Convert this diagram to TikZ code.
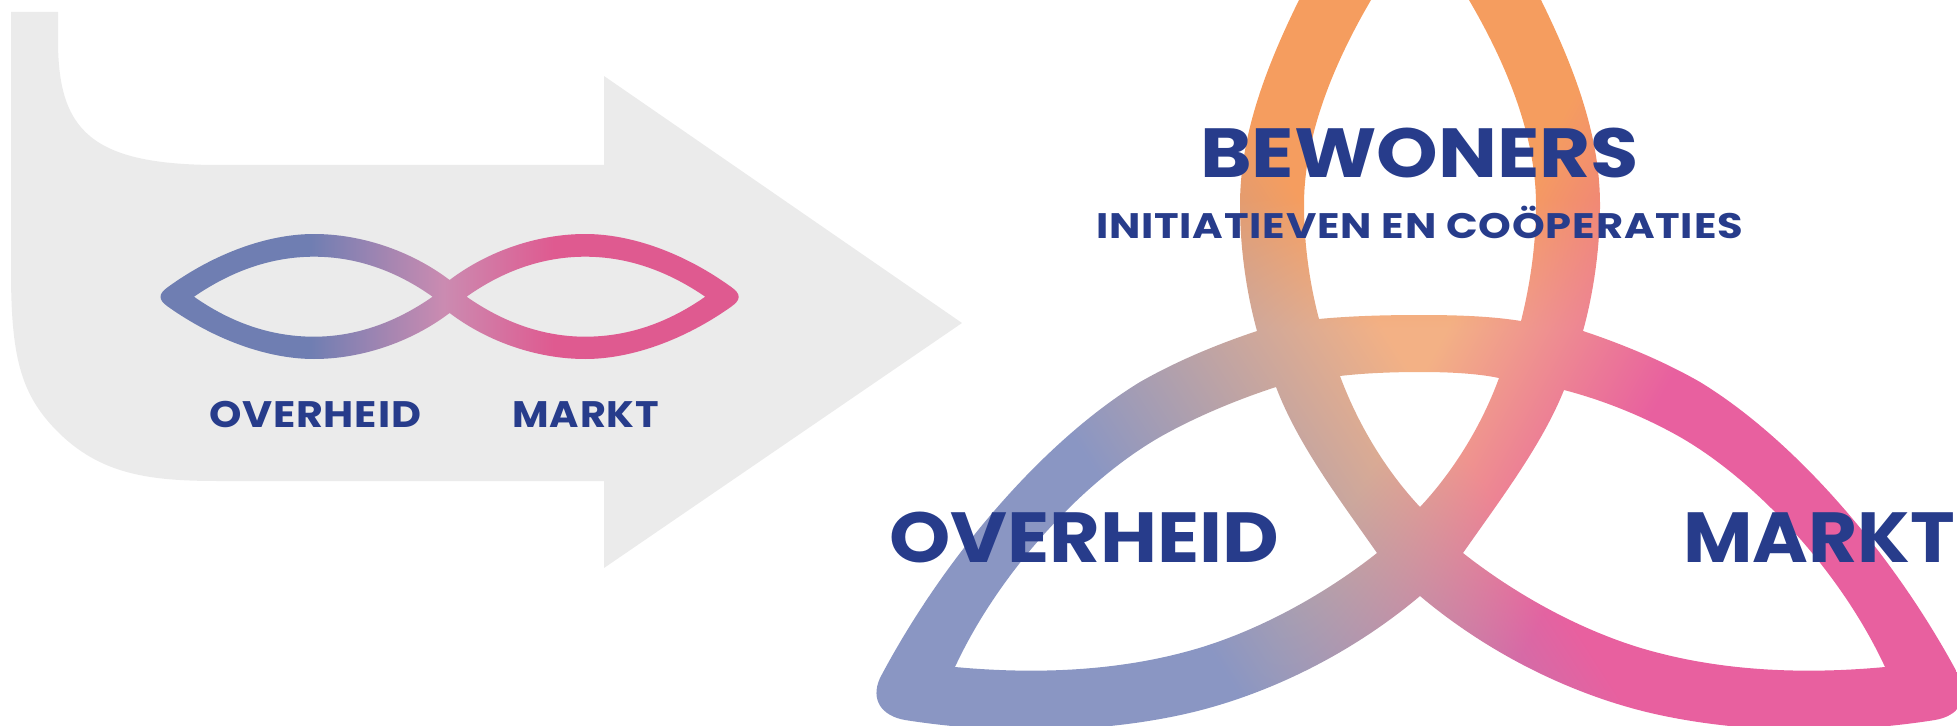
\documentclass[tikz,border=0pt]{standalone}
\usepackage{fontspec}
\setmainfont{Poppins}
\definecolor{navy}{HTML}{273C8B}
\definecolor{arrowgrey}{HTML}{EBEBEB}
\definecolor{infblue}{HTML}{6F7EB2}
\definecolor{infmid}{HTML}{CB8BB1}
\definecolor{infpink}{HTML}{DF5A90}
\pgfdeclarehorizontalshading{infshade}{140bp}{color(0bp)=(infblue); color(154bp)=(infblue); color(289bp)=(infmid); color(399bp)=(infpink); color(590bp)=(infpink)}
\pgfdeclarefunctionalshading{trishade}{\pgfpointorigin}{\pgfpoint{1957bp}{726bp}}{}{
726 exch sub
2 copy .54 mul exch .84 mul sub 985 add 320 div dup 0 lt {pop 0} if dup 1 gt {pop 1} if
3 1 roll
2 copy .476 mul exch .879 mul add 1428 sub 221 div dup 0 lt {pop 0} if dup 1 gt {pop 1} if
exch
330 exch sub 130 div dup 0 lt {pop 0} if dup 1 gt {pop 1} if
3 -1 roll pop
3 copy
.008 mul .953 add
exch dup .910 mul 3 1 roll 1 exch sub mul add
exch dup .541 mul 3 1 roll 1 exch sub mul add
4 1 roll
3 copy
-.078 mul .694 add
exch dup .376 mul 3 1 roll 1 exch sub mul add
exch dup .588 mul 3 1 roll 1 exch sub mul add
4 1 roll
3 copy
-.149 mul .522 add
exch dup .624 mul 3 1 roll 1 exch sub mul add
exch dup .765 mul 3 1 roll 1 exch sub mul add
4 1 roll
pop pop pop
}
\newcommand{\fitlabel}[4]{\resizebox{#1}{#2}{\raisebox{0pt}[\fontcharht\font`H][0pt]{\addfontfeatures{LetterSpace=#3}#4}}}
\tikzset{lab/.style={inner sep=0pt,outer sep=0pt,anchor=base west,text=navy,font=\bfseries\fontsize{60}{60}\selectfont}}
\begin{document}
\begin{tikzpicture}[x=1bp,y=-1bp]
\useasboundingbox (0,0) rectangle (1957,726);
% grey arrow
\fill[arrowgrey] (11,12) -- (58,12) -- (58,40) .. controls (58,130) and (90,165) .. (219,165) -- (604,165) -- (604,76) -- (962,323) -- (604,568) -- (604,481) -- (219,481) .. controls (150,481) and (100,475) .. (56,430) .. controls (20,393) and (11,355) .. (11,270) -- cycle;
% small figure of eight
\begin{scope}[even odd rule]
\clip (449.6,280) .. controls (410,250) and (360,234) .. (314,234) .. controls (268,234) and (215,253) .. (168,287) .. controls (158,294) and (158,299.7) .. (168,306.7) .. controls (215,340) and (268,359) .. (314,359) .. controls (360,359) and (410,343) .. (449.6,313) .. controls (489.2,343) and (539.2,359) .. (585.2,359) .. controls (631.2,359) and (684.2,340) .. (731.2,306.7) .. controls (741.2,299.7) and (741.2,294) .. (731.2,287) .. controls (684.2,253) and (631.2,234) .. (585.2,234) .. controls (539.2,234) and (489.2,250) .. (449.6,280) -- cycle
(194,296.7) .. controls (230,272) and (270,256.7) .. (314,256.7) .. controls (355,256.7) and (395,270) .. (432.6,296.7) .. controls (395,323) and (355,336.7) .. (314,336.7) .. controls (270,336.7) and (230,322) .. (194,296.7) -- cycle
(705.2,296.7) .. controls (669.2,272) and (629.2,256.7) .. (585.2,256.7) .. controls (544.2,256.7) and (504.2,270) .. (466.6,296.7) .. controls (504.2,323) and (544.2,336.7) .. (585.2,336.7) .. controls (629.2,336.7) and (669.2,322) .. (705.2,296.7) -- cycle;
\node (infgrad) [inner sep=0pt,outer sep=0pt,anchor=north west] at (155,225) {\pgfuseshading{infshade}};
\end{scope}
% triquetra
\begin{scope}[even odd rule]
\clip (1308,-30) -- (1299,0) .. controls (1262,75) and (1240,140) .. (1240,205) .. controls (1240,250) and (1247,295) .. (1257,331)
.. controls (1215,345) and (1175,362) .. (1140,382) .. controls (1045,440) and (945,555) .. (880,678)
.. controls (870,700) and (882,716) .. (905,720)
.. controls (1000,735) and (1100,733) .. (1185,714) .. controls (1265,696) and (1350,655) .. (1420,596)
.. controls (1490,655) and (1575,696) .. (1655,714) .. controls (1740,733) and (1840,735) .. (1935,720) .. controls (1958,716) and (1970,700) .. (1960,678) .. controls (1895,555) and (1795,440) .. (1700,382) .. controls (1665,362) and (1625,345) .. (1583,331) .. controls (1593,295) and (1600,250) .. (1600,205) .. controls (1600,140) and (1578,75) .. (1541,0) -- (1532,-30) -- cycle
(1380,-30) -- (1371,0) .. controls (1330,70) and (1304,140) .. (1304,205) .. controls (1304,245) and (1310,285) .. (1319,319) .. controls (1350,316) and (1385,315) .. (1420,315) .. controls (1455,315) and (1490,316) .. (1521,321) .. controls (1530,285) and (1536,245) .. (1536,205) .. controls (1536,140) and (1510,70) .. (1469,0) -- (1460,-30) -- cycle
(1340,376) .. controls (1365,373) and (1395,372) .. (1420,372) .. controls (1445,372) and (1475,373) .. (1499,378) .. controls (1480,430) and (1450,475) .. (1420,507) .. controls (1390,475) and (1360,430) .. (1340,376) -- cycle
(1276,387) .. controls (1230,402) and (1190,420) .. (1160,437) .. controls (1085,480) and (1000,570) .. (955,667) .. controls (1030,674) and (1110,672) .. (1185,652) .. controls (1250,635) and (1320,598) .. (1377,553) .. controls (1340,500) and (1298,445) .. (1276,387) -- cycle
(1564,390) .. controls (1610,402) and (1650,420) .. (1680,437) .. controls (1755,480) and (1840,570) .. (1885,667) .. controls (1810,674) and (1730,672) .. (1655,652) .. controls (1590,635) and (1520,598) .. (1463,553) .. controls (1500,500) and (1542,445) .. (1564,390) -- cycle;
\node (trigrad) [inner sep=0pt,outer sep=0pt,anchor=north west] at (0,0) {\pgfuseshading{trishade}};
\end{scope}
% labels
\node[lab] (bewoners) at (1200,178) {\fitlabel{439bp}{49bp}{0}{BEWONERS}};
\node[lab] (initiatieven) at (1096,238) {\fitlabel{647bp}{25bp}{2}{INITIATIEVEN EN COÖPERATIES}};
\node[lab] (overheidbig) at (889,562) {\fitlabel{390bp}{50bp}{0}{OVERHEID}};
\node[lab] (marktbig) at (1683,562) {\fitlabel{272bp}{50bp}{0}{MARKT}};
\node[lab] (overheidsmall) at (209,427) {\fitlabel{212bp}{26bp}{2}{OVERHEID}};
\node[lab] (marktsmall) at (512.5,427) {\fitlabel{146.5bp}{26bp}{2}{MARKT}};
\end{tikzpicture}
\end{document}
